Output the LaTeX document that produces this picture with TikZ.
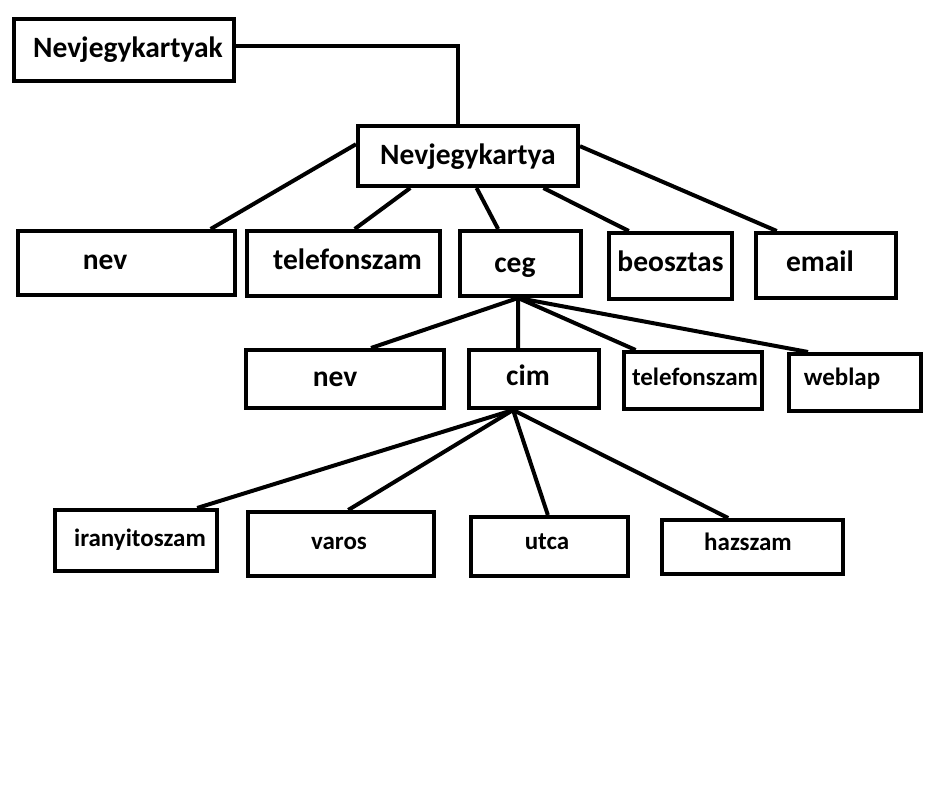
\documentclass[tikz,border=0pt]{standalone}
\usepackage{fontspec}
\setmainfont{Carlito}
\usetikzlibrary{positioning}

\tikzset{
    box/.style={draw=black, line width=4pt, inner sep=0pt, text height=14pt, text depth=0pt,
        font={\fontsize{29.5}{31}\selectfont\bfseries}},
    smallbox/.style={box, text height=10pt, font={\fontsize{25}{27}\selectfont\bfseries}},
    link/.style={draw=black, line width=4pt}
}

\begin{document}
\begin{tikzpicture}[x=1pt, y=-1pt]
        \useasboundingbox (0, 0) rectangle (935, 810);
        % top level
        \node[box, minimum width=220pt, minimum height=62pt, text height=16pt] (kartyak) at (124, 50) {\hspace*{8pt}Nevjegykartyak};
        \node[box, minimum width=220pt, minimum height=60pt, text height=18pt] (kartya) at (468, 156) {Nevjegykartya};
        % fields of a card
        \node[box, minimum width=217pt, minimum height=64pt] (nev) at (126.5, 263) {nev\hspace*{43pt}};
        \node[box, minimum width=193pt, minimum height=65pt, text height=13pt] (telefon) at (343.5, 263.5) {\hspace*{8pt}telefonszam};
        \node[box, minimum width=121pt, minimum height=65pt, text height=18pt] (ceg) at (520.5, 263.5) {ceg\hspace*{11pt}};
        \node[box, minimum width=123pt, minimum height=66pt, text height=12pt] (beosztas) at (670.5, 266) {beosztas};
        \node[box, minimum width=140pt, minimum height=65pt, text height=12pt] (email) at (826, 265.5) {email\hspace*{12pt}};
        % fields of ceg
        \node[box, minimum width=198pt, minimum height=58pt, text height=15pt] (cegnev) at (345, 379) {nev\hspace*{20pt}};
        \node[box, minimum width=130pt, minimum height=58pt] (cim) at (534, 379) {cim\hspace*{12pt}};
        \node[smallbox, minimum width=138pt, minimum height=57pt] (cegtelefon) at (693, 380.5) {\hspace*{4pt}telefonszam};
        \node[smallbox, minimum width=132pt, minimum height=57pt, text height=6pt] (weblap) at (855, 382.5) {weblap\hspace*{26pt}};
        % fields of cim
        \node[smallbox, minimum width=162pt, minimum height=61pt, text height=12pt] (irsz) at (136, 540.5) {\hspace*{8pt}iranyitoszam};
        \node[smallbox, minimum width=186pt, minimum height=64pt] (varos) at (341, 544) {varos\hspace*{4pt}};
        \node[smallbox, minimum width=157pt, minimum height=59pt, text height=5pt] (utca) at (549.5, 546.5) {utca\hspace*{5pt}};
        \node[smallbox, minimum width=181pt, minimum height=54pt, text height=6pt] (hazszam) at (752.5, 547) {hazszam\hspace*{9pt}};

        \draw[link] (kartyak.2) -| (kartya.107);
        \draw[link] (kartya.174) -- (nev.22);
        \draw[link] (kartya.209) -- (telefon.72);
        \draw[link] (kartya.285) -- (ceg.123);
        \draw[link] (kartya.337) -- (beosztas.140);
        \draw[link] (kartya.5) -- (email.145);
        \draw[link] (ceg.266) -- (cegnev.50);
        \draw[link] (ceg.266) -- (cim.117);
        \draw[link] (ceg.266) -- (cegtelefon.152);
        \draw[link] (ceg.266) -- (weblap.147);
        \draw[link] (cim.236) -- (irsz.28);
        \draw[link] (cim.236) -- (varos.78);
        \draw[link] (cim.236) -- (utca.93);
        \draw[link] (cim.236) -- (hazszam.130);
    \end{tikzpicture}
\end{document}
